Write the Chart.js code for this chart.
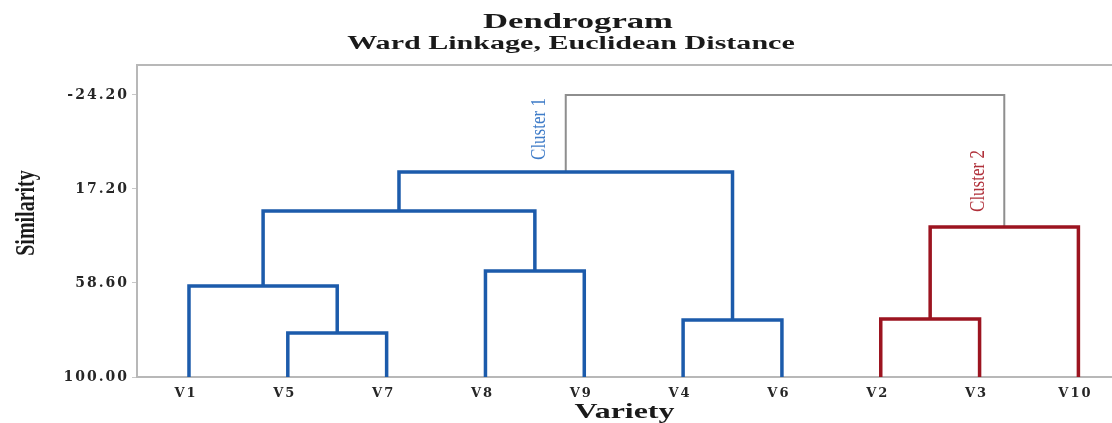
<!DOCTYPE html>
<html>
<head>
<meta charset="utf-8">
<title>Dendrogram</title>
<script src="https://cdn.jsdelivr.net/npm/chart.js@4.4.1/dist/chart.umd.min.js"></script>
<style>
  html, body { margin: 0; padding: 0; background: #ffffff; }
  #wrap { width: 1112px; height: 423px; }
</style>
</head>
<body>
<div id="wrap"><canvas id="chart" width="1112" height="423"></canvas></div>
<script>
// Leaf order along the horizontal axis
const leaves = ['V1', 'V5', 'V7', 'V8', 'V9', 'V4', 'V6', 'V2', 'V3', 'V10'];
// Similarity tick labels
const yTicks = [-24.20, 17.20, 58.60, 100.00];
// Merge steps: M1..M9, each joining two nodes (a leaf name or an earlier merge)
const mergeLeft  = ['V5', 'V1', 'V8', 'M2', 'V4', 'M4', 'V2', 'M7', 'M6'];
const mergeRight = ['V7', 'M1', 'V9', 'M3', 'V6', 'M5', 'V3', 'V10', 'M8'];
const mergeSimilarity = [80.6, 59.9, 53.3, 26.9, 74.9, 9.7, 74.5, 33.9, -24.2];
// Cluster each merge belongs to (0 = final join of the two clusters)
const mergeCluster = [1, 1, 1, 1, 1, 1, 2, 2, 0];
const clusterNames = ['Cluster 1', 'Cluster 2'];
// Merge that forms the root of each named cluster
const clusterRoots = ['M6', 'M8'];
const LEAF_SIMILARITY = 100;

const clusterColors = { 0: '#8e8e8e', 1: '#1c5bab', 2: '#9c1420' };
const clusterLabelColors = ['#3f7cc8', '#b0303a'];
const clusterWidths = { 0: 2, 1: 3.5, 2: 3.5 };

// Resolve node positions (x = leaf index / midpoint of children, y = similarity)
const nodes = {};
leaves.forEach((name, i) => { nodes[name] = { x: i, y: LEAF_SIMILARITY }; });
mergeLeft.forEach((a, k) => {
  const b = mergeRight[k];
  nodes['M' + (k + 1)] = { x: (nodes[a].x + nodes[b].x) / 2, y: mergeSimilarity[k] };
});

// One bracket-shaped polyline per merge
const datasets = mergeLeft.map((a, k) => {
  const A = nodes[a], B = nodes[mergeRight[k]], h = mergeSimilarity[k];
  const g = mergeCluster[k];
  return {
    label: 'M' + (k + 1),
    data: [{ x: A.x, y: A.y }, { x: A.x, y: h }, { x: B.x, y: h }, { x: B.x, y: B.y }],
    borderColor: clusterColors[g],
    borderWidth: clusterWidths[g],
    pointRadius: 0,
    tension: 0,
    fill: false,
    borderCapStyle: 'butt',
    borderJoinStyle: 'miter',
    order: g === 0 ? 1 : 0
  };
});

const STRETCH = 1.58;

function wideText(ctx, text, x, y, font, color, sx) {
  ctx.save();
  ctx.letterSpacing = '0px';
  ctx.translate(x, y);
  ctx.scale(sx, 1);
  ctx.font = font;
  ctx.fillStyle = color;
  ctx.textAlign = 'center';
  ctx.textBaseline = 'alphabetic';
  ctx.fillText(text, 0, 0);
  ctx.restore();
}

function verticalText(ctx, text, x, y, font, color, sy) {
  ctx.save();
  ctx.letterSpacing = '0px';
  ctx.translate(x, y);
  ctx.rotate(-Math.PI / 2);
  ctx.scale(1, sy);
  ctx.font = font;
  ctx.fillStyle = color;
  ctx.textAlign = 'center';
  ctx.textBaseline = 'middle';
  ctx.fillText(text, 0, 0);
  ctx.restore();
}

const annotations = {
  id: 'annotations',
  beforeDraw(chart) {
    chart.ctx.letterSpacing = '2px';
  },
  beforeDatasetsDraw(chart) {
    chart.ctx.letterSpacing = '0px';
  },
  afterDraw(chart) {
    const ctx = chart.ctx;
    const area = chart.chartArea;
    const xs = chart.scales.x, ys = chart.scales.y;

    // top frame line
    ctx.save();
    ctx.strokeStyle = '#b8b8b8';
    ctx.lineWidth = 2;
    ctx.beginPath();
    ctx.moveTo(area.left, area.top);
    ctx.lineTo(area.right, area.top);
    ctx.stroke();
    ctx.restore();

    // titles
    wideText(ctx, 'Dendrogram', 578, 28, 'bold 21px "Liberation Serif"', '#1a1a1a', 1.65);
    wideText(ctx, 'Ward Linkage, Euclidean Distance', 571, 49, 'bold 18px "Liberation Serif"', '#1a1a1a', 1.67);

    // axis titles
    wideText(ctx, 'Variety', (area.left + area.right) / 2, 418, 'bold 21px "Liberation Serif"', '#1a1a1a', 1.52);
    verticalText(ctx, 'Similarity', 27, 213, 'bold 20px "Liberation Serif"', '#1a1a1a', 1.35);

    // cluster labels beside the branches that join the two clusters
    const labelSimilarity = [-9.2, 13.7];
    clusterNames.forEach((name, i) => {
      const root = nodes[clusterRoots[i]];
      const px = xs.getPixelForValue(root.x) - 26;
      const py = ys.getPixelForValue(labelSimilarity[i]);
      verticalText(ctx, name, px, py, '17px "Liberation Serif"', clusterLabelColors[i], 1.25);
    });
  }
};

new Chart(document.getElementById('chart'), {
  type: 'line',
  data: { datasets },
  plugins: [annotations],
  options: {
    responsive: false,
    animation: false,
    devicePixelRatio: 1,
    layout: { padding: { top: 65, right: 0, bottom: 0, left: 0 } },
    plugins: { legend: { display: false }, tooltip: { enabled: false }, title: { display: false } },
    scales: {
      x: {
        type: 'linear',
        min: -0.526,
        max: 9.34,
        afterFit(scale) { scale.height = 46; },
        afterBuildTicks(scale) { scale.ticks = leaves.map((_, i) => ({ value: i })); },
        grid: { display: false, drawTicks: false },
        border: { display: true, color: '#b8b8b8', width: 2 },
        ticks: {
          autoSkip: false,
          maxRotation: 0,
          padding: 9,
          labelOffset: -3,
          color: '#262626',
          font: { family: 'DejaVu Serif', weight: 'bold', size: 13 },
          callback: (v) => leaves[v]
        }
      },
      y: {
        type: 'linear',
        reverse: true,
        min: -37.4,
        max: 100,
        afterFit(scale) { scale.width = 137; },
        afterBuildTicks(scale) { scale.ticks = yTicks.map((v) => ({ value: v })); },
        grid: { drawOnChartArea: false, drawTicks: true, tickLength: 5, color: '#c8c8c8' },
        border: { display: true, color: '#b8b8b8', width: 2 },
        ticks: {
          padding: 3,
          color: '#262626',
          font: { family: 'DejaVu Serif', weight: 'bold', size: 14 },
          callback: (v) => Number(v).toFixed(2)
        }
      }
    }
  }
});
</script>
</body>
</html>
